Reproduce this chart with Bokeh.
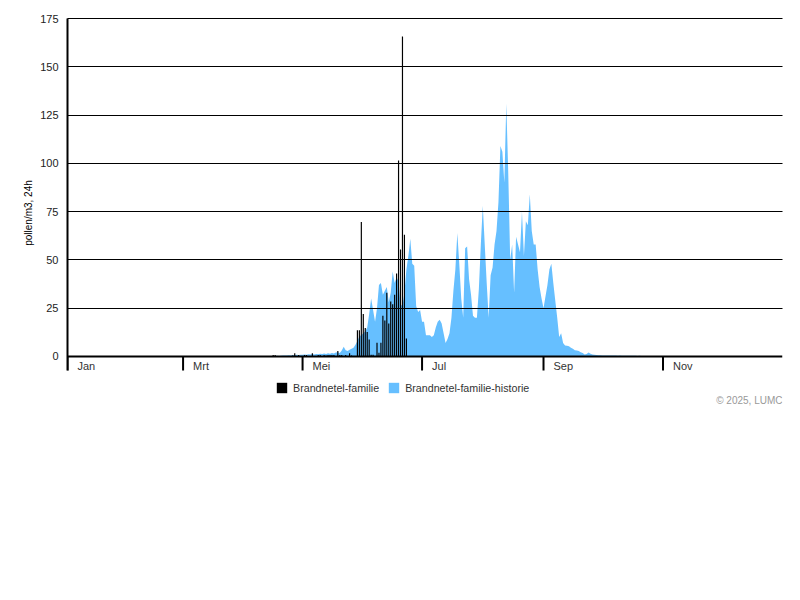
from bokeh.plotting import figure
from bokeh.models import (Range1d, FixedTicker, ColumnDataSource, Span,
                          Legend, LegendItem)
from bokeh.core.properties import value
from bokeh.embed import file_html
from bokeh.resources import INLINE

# ---------------- data ----------------
month_ticks = [0, 59, 120, 181, 243, 304]
month_labels = ["Jan", "Mrt", "Mei", "Jul", "Sep", "Nov"]
y_ticks = [0, 25, 50, 75, 100, 125, 150, 175]

# 2025 daily counts (day of year, 0 = 1 Jan)
bar_days = [105, 106, 115, 116, 118, 121, 122, 125, 128, 129, 131, 132, 133, 134, 135,
            136, 138, 139, 140, 142, 144, 145, 148, 149, 150, 151, 152, 153, 154, 155,
            156, 158, 159, 160, 161, 162, 163, 164, 165, 166, 167, 168, 169, 170, 171,
            172, 173]
bar_values = [0.7, 0.7, 0.5, 1.6, 0.7, 0.7, 0.7, 1.6, 0.7, 0.7, 0.7, 0.5, 0.7, 0.7, 0.7,
              0.7, 2.8, 0.7, 0.7, 0.7, 1.6, 0.5, 13.5, 13.5, 69.6, 22.0, 14.7, 12.6, 8.8, 0.8,
              0.8, 7.1, 1.9, 7.1, 21.0, 18.6, 33.0, 17.0, 28.5, 27.0, 32.0, 43.0, 101.5, 55.4, 165.7,
              63.0, 9.3]

# historical mean, days 100 .. 329
hist_first_day = 100
hist_values = [
    0, 0, 0, 0, 0.1,
    0.2, 0.2, 0.3, 0.2, 0.3,
    0.4, 0.5, 0.4, 0.6, 0.5,
    0.7, 0.6, 0.8, 0.7, 0.9,
    0.8, 1.0, 0.9, 1.1, 1.0,
    1.2, 1.0, 1.3, 1.1, 1.4,
    1.2, 1.5, 1.3, 1.6, 1.4,
    1.8, 1.5, 2.0, 2.2, 1.8,
    3.0, 5.0, 3.2, 2.8, 3.5,
    4.0, 4.5, 6.0, 8.0, 10.5,
    11, 12, 13, 15, 22,
    30, 24, 18, 25, 37,
    38, 32, 34, 36, 28,
    33, 44, 38, 41, 39,
    27, 26, 33, 45, 52,
    61, 48, 47, 26, 23,
    24, 18, 18, 11, 11,
    11, 10, 11, 15, 18,
    19, 17, 12, 7, 9,
    12, 20, 34, 45, 64,
    48, 30, 20, 56, 57,
    40, 32, 21, 20, 20,
    35, 58, 78, 58, 38,
    20, 42, 46, 58, 65,
    80, 109, 106, 90, 131,
    95, 50, 58, 33, 62,
    58, 54, 75, 52, 70,
    68, 84, 65, 58, 58,
    45, 36, 30, 25, 31,
    37, 45, 48, 38, 29,
    20, 10, 12, 7, 5.6,
    5.5, 5.2, 4.5, 4.0, 3.2,
    3.0, 2.8, 2.2, 1.7, 1.0,
    1.2, 2.0, 1.4, 1.0, 0.8,
    0.7, 0.6, 0.6, 0.5, 0.5,
    0.5, 0.4, 0.5, 0.4, 0.4,
    0.4, 0.3, 0.4, 0.3, 0.3, 0.3, 0.3, 0.3, 0.3, 0.3,
    0.3, 0.2, 0.3, 0.2, 0.2, 0.2, 0.2, 0.2, 0.2, 0.2,
    0.2, 0.2, 0.2, 0.2, 0.2, 0.2, 0.2, 0.2, 0.2, 0.2,
    0.1, 0.1, 0.1, 0.1, 0.1, 0.1, 0.1, 0.1, 0.1, 0.1,
    0.1, 0.1, 0.1, 0.1, 0.1, 0.1, 0.1, 0.1, 0.1, 0.1,
]
hist_days = [hist_first_day + i for i in range(len(hist_values))]

series_names = ["Brandnetel-familie", "Brandnetel-familie-historie"]
y_title = "pollen/m3, 24h"
credits = "\u00a9 2025, LUMC"

# ---------------- figure ----------------
FONT = "Liberation Sans"
TXT = "#333333"
BLUE = "#66bfff"
X_MAX = 365
Y_MIN = -27          # room below zero for month labels, legend and credits
Y_MAX = 175.6        # a little headroom so the 175 grid line is not clipped
TICK_LEN = 7.25      # month tick length in data units (~14px)
LABEL_DX = 5.1       # month label offset to the right of its tick (~10px)
LABEL_Y = -5.2
CREDIT_Y = -22.8

p = figure(width=792, height=410, x_range=Range1d(0, X_MAX), y_range=Range1d(Y_MIN, Y_MAX),
           output_backend="svg", toolbar_location=None,
           min_border_left=67, min_border_right=10, min_border_top=17, min_border_bottom=2)
p.outline_line_color = None
p.background_fill_color = "white"
p.border_fill_color = "white"
p.xaxis.visible = False
p.xgrid.visible = False

hist_src = ColumnDataSource(dict(x=hist_days, y=hist_values, y0=[0] * len(hist_values)))
area = p.varea(x="x", y1="y0", y2="y", source=hist_src, fill_color=BLUE, fill_alpha=1)

bar_src = ColumnDataSource(dict(x=bar_days, top=bar_values))
bars = p.vbar(x="x", top="top", bottom=0, width=0.6, source=bar_src,
              fill_color="black", line_color=None)

# horizontal grid lines drawn over the area
p.ygrid.ticker = FixedTicker(ticks=y_ticks[1:])
p.ygrid.grid_line_color = "black"
p.ygrid.grid_line_width = 1
p.ygrid.level = "overlay"

# x axis line at zero and month ticks
p.add_layout(Span(location=0, dimension="width", line_color="black", line_width=2,
                  level="overlay"))
tick_src = ColumnDataSource(dict(x=month_ticks, y0=[0] * len(month_ticks),
                                 y1=[-TICK_LEN] * len(month_ticks)))
p.segment(x0="x", y0="y0", x1="x", y1="y1", source=tick_src, line_color="black", line_width=2)

lab_src = ColumnDataSource(dict(x=[t + LABEL_DX for t in month_ticks],
                                y=[LABEL_Y] * len(month_ticks), text=month_labels))
p.text(x="x", y="y", text="text", source=lab_src, text_font=value(FONT),
       text_font_size="11px", text_color=TXT, text_baseline="middle", text_align="left")

p.text(x=[X_MAX], y=[CREDIT_Y], text=[credits], text_font=value(FONT),
       text_font_size="10px", text_color="#999999", text_baseline="middle", text_align="right")

# y axis
ya = p.yaxis[0]
ya.ticker = FixedTicker(ticks=y_ticks)
ya.bounds = (-TICK_LEN, 175)
ya.axis_line_color = "black"
ya.axis_line_width = 2
ya.major_tick_out = 0
ya.major_tick_in = 0
ya.minor_tick_line_color = None
ya.major_label_standoff = 9
ya.major_label_text_font = FONT
ya.major_label_text_font_size = "11px"
ya.major_label_text_color = "#222222"
ya.axis_label = y_title
ya.axis_label_text_font = FONT
ya.axis_label_text_font_size = "10px"
ya.axis_label_text_font_style = "normal"
ya.axis_label_text_color = "#000000"
ya.axis_label_standoff = 3

legend = Legend(items=[LegendItem(label=series_names[0], renderers=[bars]),
                       LegendItem(label=series_names[1], renderers=[area])],
                orientation="horizontal", location=(208, 14),
                glyph_width=13, glyph_height=13, label_standoff=5, spacing=8,
                padding=0, margin=0, border_line_color=None, background_fill_alpha=0,
                label_text_font=FONT, label_text_font_size="10.7px", label_text_color=TXT,
                label_height=13)
p.add_layout(legend, "center")

open("out.html", "w").write(file_html(p, INLINE))
